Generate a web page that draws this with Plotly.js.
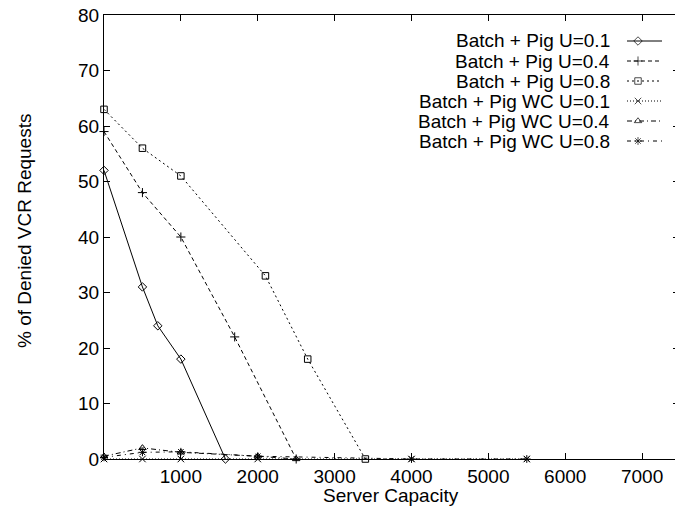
<!DOCTYPE html>
<html>
<head>
<meta charset="utf-8">
<script src="https://cdn.plot.ly/plotly-3.0.1.min.js"></script>
<style>
html, body { margin: 0; padding: 0; overflow: hidden; background: #fff; }
#chart { width: 679px; height: 514px; }
</style>
</head>
<body>
<div id="chart"></div>
<script>
// ---- Data ----
var seriesNames = [
  'Batch + Pig U=0.1',
  'Batch + Pig U=0.4',
  'Batch + Pig U=0.8',
  'Batch + Pig WC U=0.1',
  'Batch + Pig WC U=0.4',
  'Batch + Pig WC U=0.8'
];
var xU01 = [0, 500, 700, 1000, 1580];
var yU01 = [52, 31, 24, 18, 0];
var xU04 = [0, 500, 1000, 1700, 2500];
var yU04 = [59, 48, 40, 22, 0];
var xU08 = [0, 500, 1000, 2100, 2650, 3400];
var yU08 = [63, 56, 51, 33, 18, 0];
var xWC01 = [0, 500, 1000, 2000, 4000, 5500];
var yWC01 = [0, 0, 0, 0, 0, 0];
var xWC04 = [0, 500, 1000, 2000, 2500];
var yWC04 = [0.5, 2, 1.2, 0.5, 0];
var xWC08 = [0, 500, 1000, 2000, 4000, 5500];
var yWC08 = [0.3, 1.2, 1.3, 0.5, 0, 0];
var xTicks = [1000, 2000, 3000, 4000, 5000, 6000, 7000];
var yTicks = [0, 10, 20, 30, 40, 50, 60, 70, 80];

// ---- Styles ----
var symbols = ['diamond-open', 'cross-thin-open', 'square-open', 'x-thin-open', 'triangle-up-open', 'asterisk-open'];
var dashes = ['solid', '4px,3px', '2px,3px', '1px,2px', '5px,3px,1px,3px', '4px,4px,1px,4px'];
var xs = [xU01, xU04, xU08, xWC01, xWC04, xWC08];
var ys = [yU01, yU04, yU08, yWC01, yWC04, yWC08];

var FONT = 'Liberation Sans, Arial, Helvetica, sans-serif';
var W = 679, H = 514;
var mL = 104, mR = 0, mT = 15, mB = 55;
var pw = W - mL - mR, ph = H - mT - mB;
function px2x(p) { return (p - mL) / pw; }
function px2y(p) { return (H - mB - p) / ph; }

var traces = [];
for (var i = 0; i < 6; i++) {
  traces.push({
    x: xs[i], y: ys[i], type: 'scatter', mode: 'lines+markers',
    name: seriesNames[i], showlegend: false, cliponaxis: false,
    line: { color: '#000', width: 1, dash: dashes[i] },
    marker: { symbol: symbols[i], size: 6.5, color: '#000', line: { color: '#000', width: 1 } }
  });
}

// Legend (gnuplot style: text right-aligned, sample on the right)
var legRows = [41, 61, 81, 101, 121, 141];
var annotations = [];
for (var j = 0; j < 6; j++) {
  var yy = px2y(legRows[j]);
  annotations.push({
    xref: 'paper', yref: 'paper', x: px2x(612), y: yy, xanchor: 'right', yanchor: 'middle',
    text: seriesNames[j], showarrow: false, font: { family: FONT, size: 19, color: '#000' }
  });
  traces.push({
    x: [px2x(627), px2x(638), px2x(662)], y: [yy, yy, yy],
    xaxis: 'x2', yaxis: 'y2', type: 'scatter', mode: 'lines+markers', showlegend: false,
    hoverinfo: 'skip', cliponaxis: false,
    line: { color: '#000', width: 1, dash: dashes[j] },
    marker: { symbol: symbols[j], size: [0, 6.5, 0], color: '#000', line: { color: '#000', width: 1 } }
  });
}
annotations.push({
  xref: 'paper', yref: 'paper', x: px2x(24), y: px2y(231), xanchor: 'center', yanchor: 'middle',
  textangle: -90, text: '% of Denied VCR Requests', showarrow: false,
  font: { family: FONT, size: 19, color: '#000' }
});
annotations.push({
  xref: 'paper', yref: 'paper', x: px2x(391), y: px2y(495), xanchor: 'center', yanchor: 'middle',
  text: 'Server Capacity', showarrow: false,
  font: { family: FONT, size: 19, color: '#000' }
});

var layout = {
  width: W, height: H,
  margin: { l: mL, r: mR, t: mT, b: mB, pad: 0 },
  paper_bgcolor: '#fff', plot_bgcolor: '#fff',
  showlegend: false,
  xaxis: {
    range: [0, 7480], tickvals: xTicks, ticktext: xTicks.map(String),
    ticks: 'inside', ticklen: 6, tickwidth: 1, tickcolor: '#000',
    showline: true, linecolor: '#000', linewidth: 1, mirror: 'ticks',
    showgrid: false, zeroline: false,
    tickfont: { family: FONT, size: 19, color: '#000' }
  },
  yaxis: {
    range: [0, 80], tickvals: yTicks, ticktext: yTicks.map(String),
    ticks: 'inside', ticklen: 6, tickwidth: 1, tickcolor: '#000',
    showline: true, linecolor: '#000', linewidth: 1, mirror: 'ticks',
    showgrid: false, zeroline: false,
    tickfont: { family: FONT, size: 19, color: '#000' }
  },
  xaxis2: { overlaying: 'x', range: [0, 1], visible: false, fixedrange: true },
  yaxis2: { overlaying: 'y', range: [0, 1], visible: false, fixedrange: true },
  annotations: annotations
};

Plotly.newPlot('chart', traces, layout, { staticPlot: true, displayModeBar: false });
</script>
</body>
</html>
